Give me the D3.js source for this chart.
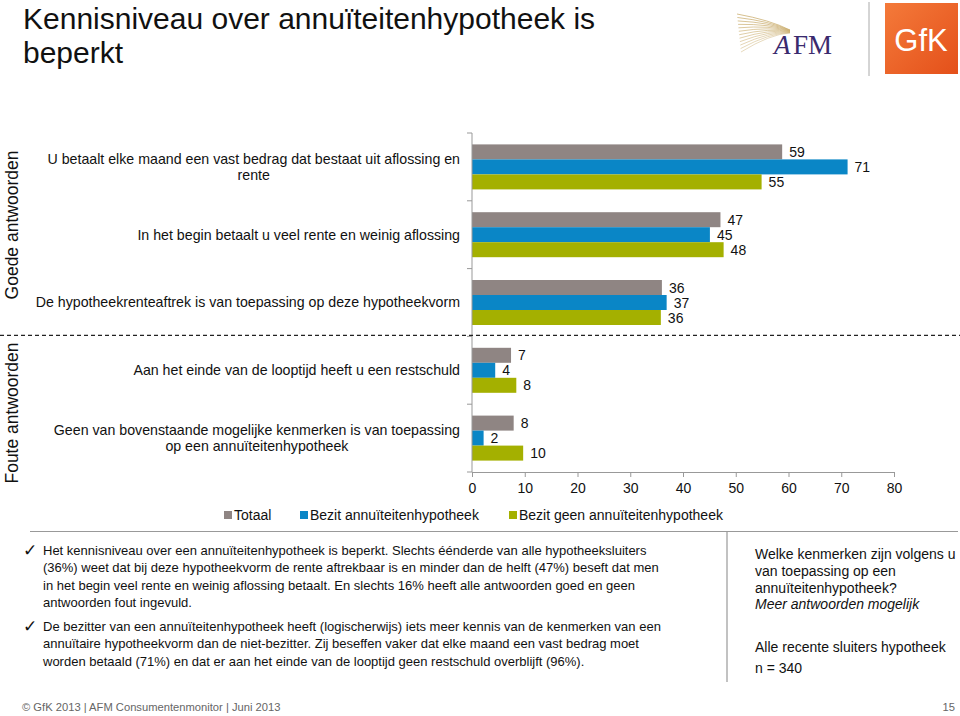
<!DOCTYPE html>
<html><head><meta charset="utf-8">
<script src="https://cdn.jsdelivr.net/npm/d3@7"></script>
<style>
html,body{margin:0;padding:0;background:#fff;}
svg{display:block;font-family:"Liberation Sans",Arial,sans-serif;}
</style></head>
<body>
<svg id="c" width="960" height="716"></svg>
<script>
// ---------- data ----------
const categories = [
  "U betaalt elke maand een vast bedrag dat bestaat uit aflossing en\nrente",
  "In het begin betaalt u veel rente en weinig aflossing",
  "De hypotheekrenteaftrek is van toepassing op deze hypotheekvorm",
  "Aan het einde van de looptijd heeft u een restschuld",
  "Geen van bovenstaande mogelijke kenmerken is van toepassing\nop een annuïteitenhypotheek"
];
const seriesNames = ["Totaal", "Bezit annuïteitenhypotheek", "Bezit geen annuïteitenhypotheek"];
const totaal      = [58.8, 47.1, 36.0, 7.4, 7.9];
const bezit       = [71.2, 45.1, 36.9, 4.4, 2.2];
const bezitGeen   = [54.9, 47.7, 35.8, 8.4, 9.7];
const seriesColors = ["#8f8583", "#0a86c6", "#a4b000"];
const xTicks = [0, 10, 20, 30, 40, 50, 60, 70, 80];
const sectionLabels = ["Goede antwoorden", "Foute antwoorden"];
const sectionSizes = [3, 2];

const titleLines = ["Kennisniveau over annuïteitenhypotheek is", "beperkt"];
const bullet1 = [
  "Het kennisniveau over een annuïteitenhypotheek is beperkt. Slechts éénderde van alle hypotheeksluiters",
  "(36%) weet dat bij deze hypotheekvorm de rente aftrekbaar is en minder dan de helft (47%) beseft dat men",
  "in het begin veel rente en weinig aflossing betaalt. En slechts 16% heeft alle antwoorden goed en geen",
  "antwoorden fout ingevuld."
];
const bullet2 = [
  "De bezitter van een annuïteitenhypotheek heeft (logischerwijs) iets meer kennis van de kenmerken van een",
  "annuïtaire hypotheekvorm dan de niet-bezitter. Zij beseffen vaker dat elke maand een vast bedrag moet",
  "worden betaald (71%) en dat er aan het einde van de looptijd geen restschuld overblijft (96%)."
];
const sideNote = ["Welke kenmerken zijn volgens u", "van toepassing op een", "annuïteitenhypotheek?"];
const sideItalic = "Meer antwoorden mogelijk";
const sideBase = "Alle recente sluiters hypotheek";
const sideN = "n = 340";
const footerText = "© GfK 2013 | AFM Consumentenmonitor | Juni 2013";
const pageNo = "15";

// ---------- setup ----------
const svg = d3.select("#c");
const series = [totaal, bezit, bezitGeen];

const x = d3.scaleLinear().domain([0, 80]).range([472, 894]);
const y = d3.scaleBand().domain(d3.range(categories.length)).range([133, 472]).paddingInner(0).paddingOuter(0);
const y1 = d3.scaleBand().domain(d3.range(seriesNames.length)).range([0, y.bandwidth()]).paddingInner(0).paddingOuter(0.76);
const fmt = d3.format(".0f");

// ---------- title ----------
svg.append("g").selectAll("text").data(titleLines).join("text")
  .attr("x", 23).attr("y", (d, i) => 29 + i * 34)
  .attr("font-size", 30).attr("fill", "#111").text(d => d);

// ---------- logos ----------
const logo = svg.append("g");
const fan = logo.append("g").attr("fill", "none").attr("stroke", "#c9ab6a").attr("stroke-width", 0.8);
d3.range(12).forEach(i => {
  const a = i / 11;
  fan.append("path").attr("d",
    `M${737 + a * 4},${14 + a * 38} Q${770},${20 + a * 14} ${790},${30 + a * 3}`)
    .attr("opacity", 0.55 + 0.4 * (1 - a));
});
logo.append("text").attr("x", 774).attr("y", 54).attr("font-family", "'Liberation Serif','DejaVu Serif',serif")
  .attr("font-style", "italic").attr("font-size", 27).attr("fill", "#3a2a6e").text("A");
logo.append("text").attr("x", 793).attr("y", 54).attr("font-family", "'Liberation Serif','DejaVu Serif',serif")
  .attr("font-size", 27).attr("fill", "#3a2a6e").text("FM");
logo.append("line").attr("x1", 869).attr("x2", 869).attr("y1", 2).attr("y2", 76).attr("stroke", "#aaa");
const grad = svg.append("defs").append("linearGradient").attr("id", "gfk").attr("x1", 0).attr("y1", 0).attr("x2", 1).attr("y2", 1);
grad.append("stop").attr("offset", 0).attr("stop-color", "#f47a3a");
grad.append("stop").attr("offset", 1).attr("stop-color", "#e4501a");
logo.append("rect").attr("x", 885).attr("y", 3).attr("width", 73).attr("height", 71).attr("fill", "url(#gfk)");
logo.append("text").attr("x", 921).attr("y", 51).attr("text-anchor", "middle").attr("font-size", 31)
  .attr("fill", "#fff").attr("font-family", "'Liberation Sans Narrow','Liberation Sans',sans-serif").text("GfK");

// ---------- bars ----------
const chart = svg.append("g");
seriesNames.forEach((s, si) => {
  const g = chart.append("g");
  g.selectAll("rect").data(series[si]).join("rect")
    .attr("x", x(0)).attr("y", (d, i) => y(i) + y1(si))
    .attr("width", d => x(d) - x(0)).attr("height", y1.bandwidth())
    .attr("fill", seriesColors[si]);
  g.selectAll("text").data(series[si]).join("text")
    .attr("x", d => x(d) + 7).attr("y", (d, i) => y(i) + y1(si) + y1.bandwidth() / 2)
    .attr("dy", "0.36em").attr("font-size", 14).attr("fill", "#111").text(d => fmt(d));
});

// ---------- axes ----------
const xAxis = svg.append("g").attr("transform", `translate(0,${y.range()[1]})`)
  .call(d3.axisBottom(x).tickValues(xTicks).tickSize(5).tickSizeOuter(0).tickPadding(6));
xAxis.select(".domain").attr("stroke", "#999");
xAxis.selectAll(".tick line").attr("stroke", "#999");
xAxis.selectAll(".tick text").attr("font-size", 14).attr("fill", "#111").attr("font-family", "'Liberation Sans',Arial,sans-serif");

const boundaries = d3.range(categories.length + 1).map(i => y.range()[0] + i * y.step());
const yAx = svg.append("g");
yAx.append("line").attr("x1", x(0)).attr("x2", x(0)).attr("y1", y.range()[0]).attr("y2", y.range()[1]).attr("stroke", "#999");
yAx.selectAll("line.t").data(boundaries).join("line").attr("class", "t")
  .attr("x1", x(0) - 5).attr("x2", x(0)).attr("y1", d => d).attr("y2", d => d).attr("stroke", "#999");

// category labels
const labG = svg.append("g").attr("font-size", 14.2).attr("fill", "#111");
categories.forEach((c, i) => {
  const lines = c.split("\n");
  const g = labG.append("g");
  const texts = g.selectAll("text").data(lines).join("text")
    .attr("y", (d, k) => y(i) + y.bandwidth() / 2 + (k - (lines.length - 1) / 2) * 16.5)
    .attr("dy", "0.35em").text(d => d);
  let maxW = 0;
  texts.each(function () { maxW = Math.max(maxW, this.getComputedTextLength()); });
  texts.attr("text-anchor", "middle").attr("x", 460 - maxW / 2);
});

// dashed separator
const sepY = y(sectionSizes[0]) - 1;
svg.append("line").attr("x1", 0).attr("x2", 960).attr("y1", sepY).attr("y2", sepY)
  .attr("stroke", "#222").attr("stroke-width", 1.3).attr("stroke-dasharray", "4,3");

// section labels
const secCenters = [225, 413];
svg.append("g").selectAll("text").data(sectionLabels).join("text")
  .attr("transform", (d, i) => `translate(17.5,${secCenters[i]}) rotate(-90)`)
  .attr("text-anchor", "middle").attr("font-size", 17.5).attr("fill", "#111").text(d => d);

// legend
const legX = [224, 300, 509];
const leg = svg.append("g");
seriesNames.forEach((s, i) => {
  leg.append("rect").attr("x", legX[i]).attr("y", 511).attr("width", 8).attr("height", 8).attr("fill", seriesColors[i]);
  leg.append("text").attr("x", legX[i] + 10).attr("y", 515).attr("dy", "0.36em")
    .attr("font-size", 14).attr("fill", "#111").text(s);
});

// ---------- bottom text ----------
svg.append("line").attr("x1", 30).attr("x2", 958).attr("y1", 531.5).attr("y2", 531.5).attr("stroke", "#999").attr("stroke-width", 1.2);
svg.append("line").attr("x1", 727).attr("x2", 727).attr("y1", 531).attr("y2", 682).attr("stroke", "#999").attr("stroke-width", 1.2);

const bt = svg.append("g").attr("font-size", 13).attr("fill", "#111");
function bullet(lines, y0) {
  bt.append("text").attr("x", 23).attr("y", y0 + 1).attr("font-family", "'DejaVu Sans',sans-serif").attr("font-size", 17).text("✓");
  lines.forEach((l, k) => {
    bt.append("text").attr("x", 43).attr("y", y0 + k * 17.3).text(l);
  });
}
bullet(bullet1, 555);
bullet(bullet2, 631);

const sn = svg.append("g").attr("font-size", 14).attr("fill", "#111");
sideNote.forEach((l, k) => sn.append("text").attr("x", 755).attr("y", 559 + k * 16.8).text(l));
sn.append("text").attr("x", 755).attr("y", 559 + 3 * 16.8).attr("font-style", "italic").text(sideItalic);
sn.append("text").attr("x", 755).attr("y", 652).text(sideBase);
sn.append("text").attr("x", 755).attr("y", 673).text(sideN);

svg.append("text").attr("x", 22).attr("y", 711).attr("font-size", 11.2).attr("fill", "#666").text(footerText);
svg.append("text").attr("x", 955).attr("y", 711).attr("text-anchor", "end").attr("font-size", 11.2).attr("fill", "#666").text(pageNo);
</script>
</body></html>
